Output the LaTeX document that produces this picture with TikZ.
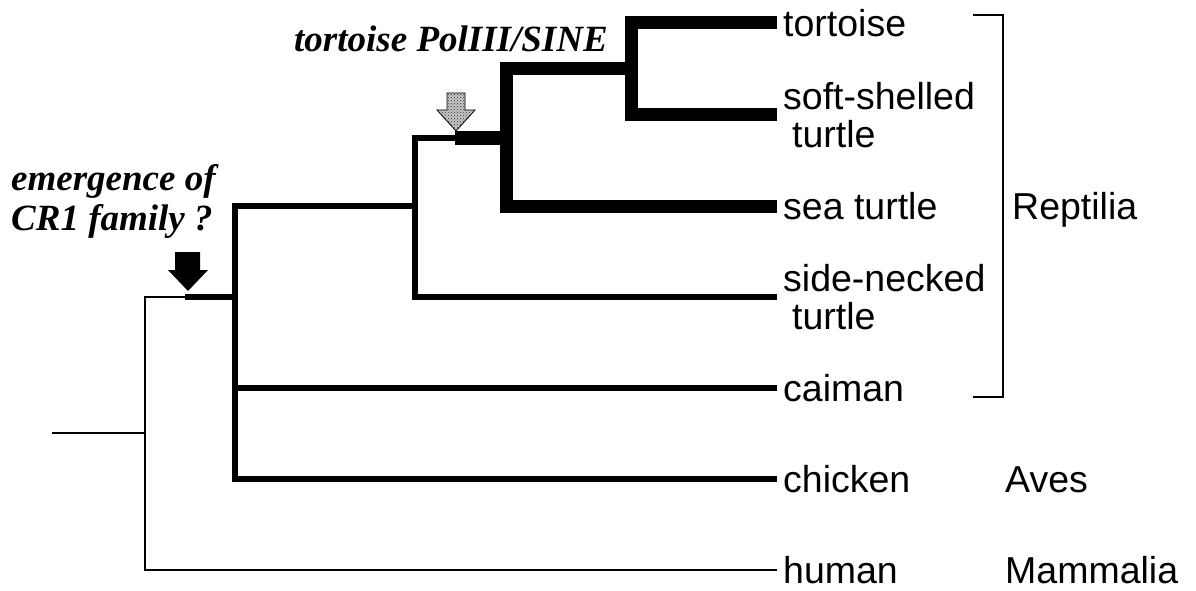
\documentclass[tikz,border=0pt]{standalone}
\usepackage{fontspec}
\usetikzlibrary{patterns}
\newfontfamily\labfont{Liberation Sans}
\newfontfamily\notefont{Liberation Serif}
\begin{document}
\begin{tikzpicture}[x=1pt,y=-1pt,
  thinline/.style={line width=2pt,line join=miter},
  medline/.style={line width=6.5pt,line join=miter},
  thickline/.style={line width=13pt,line join=miter},
  leaf/.style={anchor=west,inner xsep=6pt,inner ysep=0pt,align=left,
    font=\labfont\fontsize{37.5}{38}\selectfont},
  group/.style={anchor=base west,inner sep=0pt,
    font=\labfont\fontsize{37.5}{38}\selectfont},
  note/.style={inner sep=0pt,align=left,
    font=\notefont\bfseries\itshape\fontsize{37}{40}\selectfont}]
\useasboundingbox (0,0) rectangle (1196,591);

% leaves
\node[leaf] (tortoise) at (777,23) {tortoise};
\node[leaf] (soft) at (777,115) {soft-shelled\\\hspace*{9pt}turtle};
\node[leaf] (sea) at (777,206) {sea turtle};
\node[leaf] (side) at (777,297) {side-necked\\\hspace*{9pt}turtle};
\node[leaf] (caiman) at (777,388) {caiman};
\node[leaf] (chicken) at (777,479) {chicken};
\node[leaf] (human) at (777,570) {human};

% groups
\node[group] (rept) at (1012,219) {Reptilia};
\node[group] (aves) at (1005,492) {Aves};
\node[group] (mamm) at (1005,583) {Mammalia};

% internal nodes
\coordinate (rootstub) at (52,433);
\coordinate (root) at (145,433);
\coordinate (cr1) at (185,297);
\coordinate (saur) at (235,297);
\coordinate (turt) at (415,206);
\coordinate (sine) at (455,138);
\coordinate (cryp) at (506,138);
\coordinate (test) at (631,69);

% branches
\draw[thinline] (rootstub) -- (root);
\draw[thinline] (cr1) -| (root) |- (human.west);
\draw[medline] (cr1) -- (saur);
\draw[medline] (turt) -| (saur) |- (chicken.west);
\draw[medline] (saur |- caiman.west) -- (caiman.west);
\draw[medline] (sine) -| (turt) |- (side.west);
\draw[thickline] (sine) -- (cryp);
\draw[thickline] (test) -| (cryp) |- (sea.west);
\draw[thickline] (tortoise.west) -| (test) |- (soft.west);

% bracket
\coordinate (btop) at (973,15);
\coordinate (bbot) at (973,397);
\draw[line width=1.5pt,line join=miter] (btop) -- (1003,15) -- (1003,397) -- (bbot);

% arrows
\fill[black] (175,252) -- (200,252) -- (200,270) -- (208,270) -- (188,291)
  -- (168,270) -- (175,270) -- cycle;
\fill[gray!45] (447,93) -- (465,93)
  -- (465,110) -- (475,110) -- (456,131) -- (437,110) -- (447,110) -- cycle;
\fill[pattern=crosshatch dots,pattern color=black!80] (447,93) -- (465,93)
  -- (465,110) -- (475,110) -- (456,131) -- (437,110) -- (447,110) -- cycle;
\draw[black,line width=0.8pt,line join=miter] (447,93) -- (465,93)
  -- (465,110) -- (475,110) -- (456,131) -- (437,110) -- (447,110) -- cycle;

% notes
\node[note,anchor=north west] (cr1note) at (11,164) {emergence of\\CR1 family ?};
\node[note,anchor=base west] (sinenote) at (294,52) {tortoise PolIII/SINE};
\end{tikzpicture}
\end{document}
